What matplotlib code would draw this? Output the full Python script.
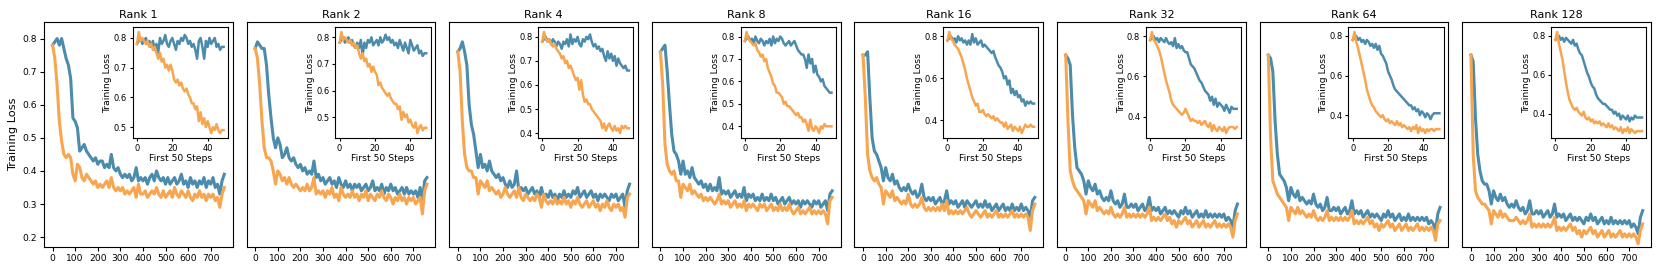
import numpy as np
import matplotlib
matplotlib.use("Agg")
import matplotlib.pyplot as plt

#%% data: loss every 10 steps (main) and every step for the first 50 (inset)

ranks = [1, 2, 4, 8, 16, 32, 64, 128]

blue_main_1 = [0.78,0.79,0.80,0.78,0.80,0.77,0.74,0.72,0.68,0.56,
               0.55,0.53,0.46,0.47,0.48,0.46,0.45,0.44,0.43,0.44,
               0.42,0.43,0.43,0.41,0.42,0.41,0.45,0.41,0.40,0.41,
               0.39,0.38,0.39,0.38,0.39,0.37,0.38,0.41,0.37,0.38,
               0.37,0.38,0.36,0.38,0.39,0.37,0.40,0.38,0.37,0.38,
               0.36,0.38,0.36,0.37,0.38,0.36,0.37,0.39,0.36,0.37,
               0.35,0.38,0.36,0.37,0.35,0.37,0.36,0.38,0.35,0.37,
               0.36,0.38,0.35,0.36,0.33,0.37,0.39]
orange_main_1 = [0.78,0.74,0.66,0.55,0.49,0.45,0.44,0.45,0.44,0.39,
                 0.37,0.42,0.41,0.38,0.37,0.39,0.38,0.37,0.36,0.37,
                 0.35,0.36,0.35,0.36,0.37,0.35,0.38,0.35,0.34,0.35,
                 0.34,0.35,0.33,0.34,0.33,0.34,0.35,0.32,0.36,0.33,
                 0.33,0.34,0.32,0.33,0.34,0.33,0.35,0.33,0.32,0.34,
                 0.32,0.33,0.34,0.32,0.35,0.33,0.32,0.34,0.33,0.32,
                 0.34,0.32,0.31,0.33,0.32,0.34,0.32,0.33,0.31,0.33,
                 0.32,0.33,0.31,0.32,0.29,0.33,0.35]

blue_main_2 = [0.77,0.79,0.78,0.77,0.77,0.72,0.63,0.56,0.50,0.47,
               0.50,0.48,0.44,0.45,0.47,0.44,0.43,0.44,0.42,0.41,
               0.42,0.40,0.41,0.39,0.40,0.39,0.43,0.38,0.39,0.37,
               0.38,0.36,0.37,0.38,0.36,0.37,0.35,0.38,0.36,0.35,
               0.37,0.35,0.36,0.34,0.36,0.35,0.36,0.34,0.35,0.36,
               0.34,0.35,0.37,0.34,0.35,0.34,0.36,0.33,0.35,0.34,
               0.36,0.34,0.35,0.33,0.34,0.35,0.33,0.35,0.33,0.34,
               0.33,0.34,0.32,0.35,0.31,0.37,0.38]
orange_main_2 = [0.77,0.74,0.66,0.55,0.47,0.44,0.44,0.43,0.40,0.36,
                 0.40,0.39,0.37,0.38,0.36,0.38,0.36,0.35,0.36,0.35,
                 0.34,0.35,0.34,0.36,0.34,0.35,0.38,0.33,0.34,0.33,
                 0.34,0.32,0.34,0.33,0.35,0.32,0.33,0.31,0.35,0.33,
                 0.32,0.33,0.32,0.34,0.32,0.33,0.31,0.33,0.32,0.34,
                 0.31,0.33,0.32,0.31,0.33,0.32,0.34,0.32,0.31,0.33,
                 0.32,0.30,0.32,0.31,0.33,0.31,0.32,0.30,0.32,0.31,
                 0.32,0.30,0.31,0.32,0.27,0.34,0.36]

blue_main_4 = [0.76,0.77,0.79,0.76,0.72,0.60,0.54,0.51,0.46,0.41,
               0.45,0.41,0.42,0.40,0.43,0.40,0.39,0.38,0.39,0.37,
               0.38,0.36,0.35,0.37,0.35,0.36,0.40,0.34,0.35,0.34,
               0.35,0.33,0.34,0.35,0.33,0.34,0.32,0.35,0.32,0.33,
               0.32,0.34,0.32,0.33,0.31,0.33,0.32,0.34,0.32,0.33,
               0.32,0.34,0.33,0.35,0.32,0.33,0.34,0.32,0.33,0.34,
               0.32,0.33,0.31,0.33,0.32,0.33,0.32,0.31,0.33,0.32,
               0.33,0.31,0.32,0.33,0.29,0.34,0.36]
orange_main_4 = [0.76,0.70,0.55,0.45,0.41,0.40,0.40,0.38,0.38,0.33,
                 0.37,0.36,0.35,0.37,0.34,0.35,0.34,0.33,0.34,0.32,
                 0.33,0.35,0.33,0.32,0.33,0.34,0.32,0.35,0.32,0.31,
                 0.33,0.32,0.31,0.32,0.31,0.33,0.32,0.29,0.33,0.31,
                 0.30,0.31,0.30,0.32,0.30,0.31,0.30,0.32,0.30,0.31,
                 0.29,0.31,0.30,0.32,0.30,0.29,0.30,0.31,0.29,0.30,
                 0.31,0.29,0.30,0.28,0.30,0.29,0.31,0.29,0.28,0.30,
                 0.29,0.30,0.28,0.29,0.26,0.32,0.33]

blue_main_8 = [0.76,0.77,0.78,0.70,0.60,0.51,0.46,0.45,0.43,0.39,
               0.43,0.39,0.40,0.38,0.41,0.38,0.37,0.36,0.37,0.35,
               0.36,0.34,0.36,0.34,0.35,0.34,0.38,0.33,0.34,0.33,
               0.34,0.32,0.33,0.34,0.32,0.33,0.32,0.35,0.31,0.33,
               0.32,0.33,0.31,0.32,0.31,0.33,0.31,0.32,0.31,0.33,
               0.31,0.32,0.30,0.31,0.32,0.30,0.31,0.32,0.30,0.31,
               0.30,0.31,0.29,0.31,0.30,0.31,0.30,0.29,0.31,0.30,
               0.31,0.29,0.30,0.31,0.28,0.33,0.34]
orange_main_8 = [0.76,0.66,0.48,0.42,0.40,0.39,0.40,0.37,0.37,0.32,
                 0.36,0.35,0.34,0.36,0.33,0.34,0.33,0.32,0.33,0.31,
                 0.32,0.31,0.32,0.31,0.30,0.31,0.33,0.30,0.31,0.30,
                 0.31,0.29,0.30,0.31,0.29,0.30,0.29,0.31,0.28,0.30,
                 0.29,0.30,0.29,0.28,0.30,0.29,0.30,0.28,0.29,0.30,
                 0.28,0.29,0.28,0.30,0.28,0.29,0.28,0.30,0.28,0.27,
                 0.28,0.29,0.27,0.28,0.27,0.28,0.29,0.27,0.28,0.27,
                 0.28,0.27,0.28,0.27,0.24,0.31,0.32]

blue_main_16 = [0.75,0.75,0.76,0.62,0.50,0.46,0.45,0.43,0.41,0.37,
                0.41,0.38,0.37,0.39,0.36,0.37,0.35,0.34,0.35,0.34,
                0.36,0.34,0.33,0.34,0.32,0.33,0.36,0.32,0.31,0.32,
                0.31,0.32,0.30,0.31,0.32,0.30,0.31,0.34,0.30,0.31,
                0.30,0.31,0.29,0.30,0.31,0.29,0.31,0.30,0.29,0.30,
                0.31,0.29,0.30,0.29,0.31,0.29,0.30,0.28,0.29,0.30,
                0.28,0.29,0.30,0.28,0.29,0.28,0.30,0.28,0.29,0.28,
                0.30,0.28,0.29,0.28,0.26,0.31,0.32]
orange_main_16 = [0.75,0.62,0.45,0.40,0.38,0.37,0.38,0.36,0.35,0.30,
                  0.34,0.33,0.32,0.34,0.31,0.32,0.31,0.30,0.31,0.30,
                  0.33,0.30,0.29,0.30,0.29,0.30,0.32,0.29,0.28,0.29,
                  0.28,0.29,0.28,0.29,0.28,0.30,0.28,0.31,0.27,0.28,
                  0.27,0.28,0.27,0.28,0.27,0.28,0.29,0.27,0.26,0.27,
                  0.28,0.27,0.26,0.27,0.28,0.26,0.27,0.26,0.27,0.28,
                  0.26,0.27,0.26,0.27,0.26,0.27,0.28,0.26,0.27,0.26,
                  0.27,0.26,0.27,0.26,0.22,0.28,0.30]

blue_main_32 = [0.75,0.74,0.72,0.57,0.47,0.41,0.40,0.39,0.37,0.33,
                0.37,0.35,0.34,0.36,0.33,0.34,0.32,0.31,0.32,0.31,
                0.34,0.31,0.30,0.31,0.29,0.30,0.33,0.29,0.29,0.30,
                0.29,0.30,0.28,0.29,0.30,0.28,0.29,0.32,0.28,0.29,
                0.28,0.29,0.27,0.28,0.29,0.27,0.28,0.27,0.28,0.27,
                0.26,0.28,0.27,0.29,0.27,0.28,0.26,0.27,0.28,0.26,
                0.27,0.26,0.28,0.26,0.27,0.26,0.27,0.26,0.27,0.26,
                0.27,0.25,0.26,0.25,0.23,0.28,0.30]
orange_main_32 = [0.75,0.55,0.40,0.37,0.35,0.34,0.33,0.32,0.31,0.27,
                  0.31,0.30,0.29,0.31,0.28,0.29,0.28,0.27,0.28,0.27,
                  0.29,0.27,0.26,0.27,0.26,0.27,0.29,0.26,0.27,0.26,
                  0.27,0.26,0.27,0.26,0.27,0.26,0.27,0.29,0.25,0.26,
                  0.25,0.26,0.25,0.26,0.27,0.25,0.26,0.24,0.25,0.23,
                  0.25,0.24,0.25,0.26,0.24,0.25,0.23,0.24,0.25,0.23,
                  0.24,0.25,0.23,0.24,0.23,0.24,0.25,0.23,0.24,0.23,
                  0.24,0.23,0.24,0.23,0.20,0.25,0.27]

blue_main_64 = [0.75,0.74,0.70,0.55,0.45,0.39,0.38,0.37,0.35,0.31,
                0.35,0.33,0.32,0.34,0.31,0.32,0.31,0.30,0.31,0.30,
                0.33,0.30,0.29,0.30,0.28,0.29,0.32,0.28,0.28,0.29,
                0.28,0.29,0.27,0.28,0.29,0.27,0.28,0.31,0.27,0.28,
                0.27,0.28,0.26,0.27,0.28,0.26,0.27,0.26,0.27,0.26,
                0.25,0.27,0.26,0.28,0.26,0.27,0.25,0.26,0.27,0.25,
                0.26,0.25,0.27,0.25,0.26,0.25,0.26,0.25,0.26,0.25,
                0.26,0.24,0.25,0.24,0.22,0.27,0.29]
orange_main_64 = [0.75,0.50,0.37,0.35,0.33,0.32,0.31,0.30,0.29,0.25,
                  0.29,0.28,0.27,0.29,0.27,0.28,0.27,0.26,0.27,0.26,
                  0.28,0.26,0.25,0.26,0.25,0.26,0.28,0.25,0.26,0.25,
                  0.26,0.25,0.26,0.25,0.26,0.25,0.26,0.28,0.24,0.25,
                  0.24,0.25,0.24,0.25,0.26,0.24,0.25,0.23,0.24,0.22,
                  0.24,0.23,0.24,0.25,0.23,0.24,0.22,0.23,0.24,0.22,
                  0.23,0.24,0.22,0.23,0.22,0.23,0.24,0.22,0.23,0.22,
                  0.23,0.22,0.23,0.22,0.19,0.24,0.25]

blue_main_128 = [0.75,0.73,0.56,0.45,0.40,0.37,0.36,0.36,0.34,0.30,
                 0.34,0.32,0.31,0.33,0.31,0.32,0.30,0.29,0.30,0.29,
                 0.31,0.29,0.28,0.29,0.27,0.28,0.31,0.27,0.27,0.28,
                 0.27,0.28,0.26,0.27,0.28,0.26,0.27,0.30,0.26,0.27,
                 0.26,0.27,0.25,0.26,0.27,0.25,0.26,0.25,0.26,0.25,
                 0.24,0.26,0.25,0.27,0.25,0.26,0.24,0.25,0.26,0.24,
                 0.25,0.24,0.26,0.24,0.25,0.24,0.25,0.24,0.25,0.24,
                 0.25,0.23,0.24,0.23,0.21,0.26,0.28]
orange_main_128 = [0.75,0.45,0.34,0.32,0.31,0.30,0.30,0.29,0.28,0.24,
                   0.28,0.27,0.26,0.28,0.26,0.27,0.26,0.25,0.25,0.25,
                   0.26,0.25,0.24,0.25,0.24,0.25,0.27,0.23,0.24,0.23,
                   0.24,0.23,0.24,0.23,0.24,0.23,0.24,0.26,0.22,0.23,
                   0.22,0.23,0.22,0.23,0.24,0.22,0.23,0.21,0.22,0.20,
                   0.22,0.21,0.22,0.23,0.21,0.22,0.20,0.21,0.22,0.20,
                   0.21,0.22,0.20,0.21,0.20,0.21,0.22,0.20,0.21,0.20,
                   0.21,0.20,0.21,0.20,0.18,0.22,0.24]

# first 50 steps
blue_first_1 = [0.78,0.79,0.80,0.78,0.79,0.80,0.78,0.79,0.77,0.79,0.76,0.78,0.75,0.80,0.78,0.79,0.81,0.78,0.77,0.79,
                0.80,0.78,0.76,0.79,0.78,0.80,0.79,0.81,0.80,0.78,0.79,0.77,0.78,0.76,0.73,0.79,0.80,0.77,0.73,0.79,
                0.77,0.80,0.78,0.79,0.80,0.77,0.78,0.76,0.77,0.77]
orange_first_1 = [0.78,0.82,0.79,0.80,0.79,0.78,0.79,0.77,0.78,0.76,0.77,0.75,0.73,0.75,0.72,0.73,0.70,0.71,0.69,0.71,
                  0.69,0.66,0.65,0.66,0.64,0.65,0.63,0.62,0.63,0.61,0.60,0.58,0.58,0.56,0.57,0.52,0.55,0.51,0.53,0.50,
                  0.52,0.50,0.48,0.50,0.49,0.51,0.49,0.48,0.49,0.49]
blue_first_2 = [0.78,0.79,0.80,0.78,0.79,0.80,0.78,0.79,0.77,0.76,0.78,0.76,0.79,0.73,0.78,0.76,0.79,0.78,0.80,0.77,
                0.78,0.79,0.77,0.80,0.78,0.79,0.81,0.79,0.80,0.78,0.79,0.77,0.78,0.76,0.79,0.77,0.75,0.78,0.76,0.74,
                0.79,0.77,0.75,0.76,0.77,0.74,0.75,0.73,0.74,0.74]
orange_first_2 = [0.78,0.82,0.79,0.80,0.79,0.78,0.79,0.77,0.78,0.76,0.77,0.74,0.72,0.74,0.71,0.72,0.69,0.70,0.67,0.69,
                  0.67,0.66,0.62,0.63,0.61,0.60,0.59,0.58,0.59,0.57,0.56,0.55,0.55,0.53,0.54,0.49,0.52,0.50,0.51,0.48,
                  0.49,0.47,0.46,0.48,0.44,0.46,0.47,0.45,0.46,0.46]
blue_first_4 = [0.78,0.79,0.80,0.78,0.79,0.77,0.79,0.78,0.76,0.78,0.77,0.75,0.78,0.77,0.79,0.76,0.81,0.77,0.79,0.78,
                0.80,0.77,0.76,0.79,0.78,0.80,0.79,0.81,0.78,0.76,0.77,0.75,0.76,0.74,0.75,0.72,0.70,0.74,0.71,0.73,
                0.70,0.72,0.68,0.71,0.69,0.68,0.67,0.68,0.66,0.66]
orange_first_4 = [0.78,0.82,0.79,0.78,0.79,0.77,0.76,0.77,0.75,0.74,0.73,0.71,0.72,0.69,0.70,0.67,0.68,0.66,0.64,0.62,
                  0.63,0.58,0.62,0.56,0.53,0.54,0.52,0.52,0.50,0.49,0.48,0.47,0.46,0.45,0.42,0.44,0.41,0.43,0.44,0.42,
                  0.41,0.43,0.41,0.42,0.40,0.43,0.42,0.43,0.42,0.42]
blue_first_8 = [0.78,0.79,0.80,0.78,0.79,0.77,0.80,0.78,0.77,0.79,0.78,0.76,0.78,0.77,0.79,0.76,0.80,0.77,0.79,0.78,
                0.80,0.79,0.77,0.76,0.77,0.78,0.76,0.77,0.78,0.76,0.74,0.73,0.72,0.72,0.70,0.66,0.72,0.68,0.70,0.64,
                0.67,0.63,0.62,0.60,0.61,0.58,0.57,0.56,0.55,0.55]
orange_first_8 = [0.78,0.82,0.79,0.78,0.77,0.76,0.77,0.74,0.73,0.71,0.72,0.69,0.70,0.66,0.64,0.62,0.59,0.58,0.55,0.55,
                  0.54,0.53,0.50,0.51,0.49,0.49,0.48,0.47,0.46,0.45,0.46,0.44,0.44,0.42,0.43,0.41,0.38,0.43,0.39,0.38,
                  0.40,0.39,0.37,0.40,0.39,0.41,0.40,0.40,0.40,0.40]
blue_first_16 = [0.78,0.79,0.80,0.78,0.79,0.77,0.80,0.78,0.79,0.77,0.78,0.76,0.78,0.76,0.81,0.77,0.79,0.76,0.77,0.78,
                 0.75,0.76,0.75,0.74,0.73,0.72,0.73,0.70,0.68,0.66,0.65,0.63,0.60,0.61,0.57,0.59,0.53,0.55,0.52,0.54,
                 0.51,0.52,0.49,0.50,0.47,0.49,0.48,0.49,0.48,0.48]
orange_first_16 = [0.78,0.82,0.79,0.78,0.76,0.75,0.74,0.72,0.70,0.67,0.64,0.60,0.57,0.54,0.51,0.49,0.47,0.48,0.44,0.44,
                   0.45,0.43,0.42,0.43,0.42,0.41,0.42,0.40,0.41,0.40,0.39,0.39,0.37,0.39,0.36,0.37,0.38,0.35,0.37,0.36,
                   0.35,0.37,0.34,0.36,0.38,0.37,0.37,0.38,0.37,0.37]
blue_first_32 = [0.78,0.79,0.80,0.78,0.79,0.77,0.79,0.78,0.77,0.79,0.77,0.76,0.77,0.75,0.79,0.74,0.76,0.74,0.75,0.73,
                 0.72,0.72,0.69,0.66,0.65,0.64,0.62,0.60,0.58,0.57,0.55,0.53,0.52,0.51,0.48,0.50,0.46,0.49,0.45,0.47,
                 0.46,0.45,0.43,0.46,0.44,0.42,0.45,0.44,0.44,0.44]
orange_first_32 = [0.78,0.82,0.78,0.77,0.75,0.73,0.70,0.66,0.62,0.58,0.55,0.52,0.48,0.46,0.45,0.44,0.43,0.42,0.41,0.42,
                   0.44,0.42,0.40,0.38,0.39,0.38,0.38,0.37,0.38,0.36,0.37,0.38,0.36,0.35,0.37,0.33,0.36,0.34,0.33,0.35,
                   0.34,0.33,0.35,0.32,0.34,0.35,0.35,0.35,0.34,0.35]
blue_first_64 = [0.78,0.79,0.80,0.78,0.79,0.77,0.78,0.76,0.78,0.77,0.75,0.76,0.74,0.76,0.73,0.75,0.71,0.70,0.68,0.66,
                 0.62,0.60,0.58,0.55,0.53,0.52,0.51,0.50,0.49,0.48,0.47,0.46,0.45,0.45,0.43,0.44,0.42,0.43,0.40,0.42,
                 0.41,0.39,0.41,0.40,0.38,0.40,0.41,0.41,0.41,0.41]
orange_first_64 = [0.78,0.82,0.77,0.74,0.70,0.66,0.62,0.58,0.53,0.50,0.47,0.45,0.44,0.42,0.41,0.40,0.39,0.40,0.38,0.37,
                   0.38,0.36,0.37,0.36,0.35,0.37,0.35,0.36,0.34,0.35,0.34,0.33,0.34,0.32,0.34,0.33,0.35,0.31,0.34,0.32,
                   0.33,0.31,0.33,0.32,0.33,0.33,0.32,0.33,0.33,0.33]
blue_first_128 = [0.78,0.79,0.80,0.78,0.79,0.77,0.79,0.78,0.77,0.76,0.78,0.75,0.76,0.73,0.71,0.70,0.67,0.64,0.61,0.59,
                  0.56,0.54,0.53,0.50,0.48,0.47,0.46,0.45,0.45,0.44,0.43,0.42,0.42,0.40,0.41,0.39,0.40,0.37,0.39,0.38,
                  0.37,0.39,0.36,0.38,0.37,0.39,0.38,0.38,0.38,0.38]
orange_first_128 = [0.78,0.82,0.76,0.72,0.68,0.62,0.56,0.51,0.47,0.45,0.43,0.42,0.43,0.41,0.40,0.39,0.41,0.38,0.37,0.38,
                    0.36,0.37,0.35,0.36,0.35,0.36,0.34,0.35,0.34,0.33,0.35,0.33,0.34,0.32,0.33,0.32,0.31,0.33,0.30,0.32,
                    0.31,0.33,0.30,0.32,0.31,0.30,0.31,0.31,0.31,0.31]

inset_yticks = [[0.5, 0.6, 0.7, 0.8], [0.5, 0.6, 0.7, 0.8],
                [0.4, 0.5, 0.6, 0.7, 0.8], [0.4, 0.5, 0.6, 0.7, 0.8],
                [0.4, 0.6, 0.8], [0.4, 0.6, 0.8], [0.4, 0.6, 0.8], [0.4, 0.6, 0.8]]

main_blue = [blue_main_1, blue_main_2, blue_main_4, blue_main_8,
             blue_main_16, blue_main_32, blue_main_64, blue_main_128]
main_orange = [orange_main_1, orange_main_2, orange_main_4, orange_main_8,
               orange_main_16, orange_main_32, orange_main_64, orange_main_128]
first_blue = [blue_first_1, blue_first_2, blue_first_4, blue_first_8,
              blue_first_16, blue_first_32, blue_first_64, blue_first_128]
first_orange = [orange_first_1, orange_first_2, orange_first_4, orange_first_8,
                orange_first_16, orange_first_32, orange_first_64, orange_first_128]

#%%

BLUE = '#4b8bac'
ORANGE = '#f8a54f'

f, axes = plt.subplots(1, 8, figsize=(16.6, 2.7), dpi=100, sharey=True)
f.subplots_adjust(left=0.0265, right=0.9946, bottom=0.085, top=0.9185, wspace=0.074)

for i, ax in enumerate(axes):
    xb = np.arange(len(main_blue[i])) * 10
    xo = np.arange(len(main_orange[i])) * 10
    ax.plot(xb, main_blue[i], color=BLUE, lw=2.2)
    ax.plot(xo, main_orange[i], color=ORANGE, lw=2.2)
    ax.set_title(f'Rank {ranks[i]}', fontsize=8, pad=3)
    ax.set_xlim(-38, 797)
    ax.set_ylim(0.17, 0.85)
    ax.set_xticks(range(0, 800, 100))
    ax.tick_params(labelsize=6.6, length=3, pad=2)
    ax.yaxis.get_offset_text().set_visible(False)
    if i == 0:
        ax.set_ylabel('Training Loss', fontsize=8.2, labelpad=3)
        ax.set_yticks([0.2, 0.3, 0.4, 0.5, 0.6, 0.7, 0.8])
    else:
        ax.tick_params(axis='y', left=False)

    ins = ax.inset_axes([0.47, 0.484, 0.505, 0.494])
    s = np.arange(len(first_blue[i]))
    ins.plot(s, first_blue[i], color=BLUE, lw=1.8)
    ins.plot(s, first_orange[i], color=ORANGE, lw=1.8)
    ins.set_xticks([0, 20, 40])
    ins.set_yticks(inset_yticks[i])
    ins.tick_params(labelsize=6, length=2.5, pad=1.5)
    ins.yaxis.get_offset_text().set_visible(False)
    ins.set_xlabel('First 50 Steps', fontsize=6.7, labelpad=1)
    ins.set_ylabel('Training Loss', fontsize=6.7, labelpad=1)

f.savefig('out.png', dpi=100)
